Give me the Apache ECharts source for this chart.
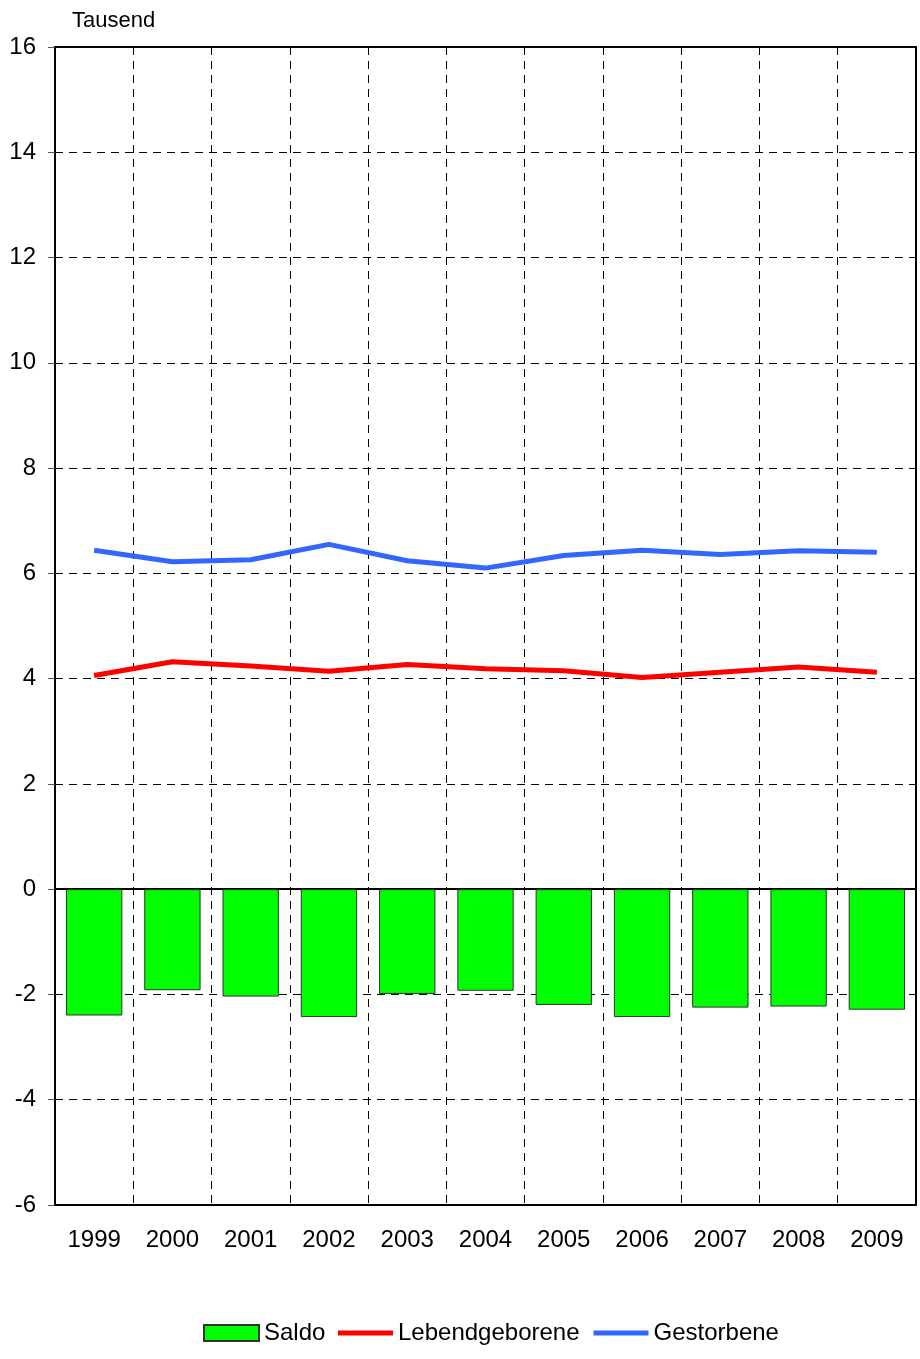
<!DOCTYPE html>
<html>
<head>
<meta charset="utf-8">
<script src="https://cdn.jsdelivr.net/npm/echarts@6/dist/echarts.min.js"></script>
<style>
html,body{margin:0;padding:0;background:#fff;}
#c{width:920px;height:1359px;}
</style>
</head>
<body>
<div id="c"></div>
<script>
const years = ['1999','2000','2001','2002','2003','2004','2005','2006','2007','2008','2009'];
const saldo = [-2.40, -1.92, -2.04, -2.43, -1.99, -1.93, -2.20, -2.43, -2.25, -2.23, -2.29];
const lebendgeborene = [4.06, 4.32, 4.24, 4.14, 4.27, 4.19, 4.15, 4.02, 4.12, 4.22, 4.12];
const gestorbene = [6.44, 6.22, 6.26, 6.55, 6.24, 6.10, 6.34, 6.44, 6.36, 6.43, 6.40];

const FONT = '"Liberation Sans", Arial, sans-serif';
const legendText = {fontFamily: FONT, fontSize: 24, color: '#000'};
const chart = echarts.init(document.getElementById('c'));
chart.setOption({
  animation: false,
  textStyle: {fontFamily: FONT, color: '#000'},
  title: {
    text: 'Tausend', left: 67, top: 5,
    textStyle: {fontFamily: FONT, fontSize: 22, fontWeight: 'normal', color: '#000'}
  },
  grid: {
    left: 55, right: 4, top: 47, bottom: 154,
    show: true, borderColor: '#000', borderWidth: 2, backgroundColor: 'transparent'
  },
  legend: [
    {
      top: 1321, left: 203, padding: 0,
      itemWidth: 55, itemHeight: 16,
      textStyle: legendText,
      data: [{name: 'Saldo', icon: 'rect'}]
    },
    {
      top: 1321, left: 338, padding: 0,
      itemWidth: 55, itemHeight: 5, itemGap: 14,
      textStyle: legendText,
      data: [{name: 'Lebendgeborene', icon: 'rect'}, {name: 'Gestorbene', icon: 'rect'}]
    }
  ],
  xAxis: {
    type: 'category', data: years, boundaryGap: true,
    axisLine: {show: true, lineStyle: {color: '#000', width: 2}},
    axisTick: {show: false},
    axisLabel: {fontFamily: FONT, fontSize: 24, color: '#000', margin: 23, interval: 0},
    splitLine: {show: true, interval: 0, lineStyle: {color: '#000', type: [8,6], width: 1}}
  },
  yAxis: {
    type: 'value', min: -6, max: 16, interval: 2,
    axisLine: {show: true, onZero: false, lineStyle: {color: '#000', width: 2}},
    axisTick: {show: true, length: 7, lineStyle: {color: '#555', width: 1}},
    axisLabel: {fontFamily: FONT, fontSize: 24, color: '#000', margin: 19},
    splitLine: {show: true, lineStyle: {color: '#000', type: [8,6], width: 1}}
  },
  series: [
    {
      name: 'Saldo', type: 'bar', data: saldo, barCategoryGap: '28%',
      itemStyle: {color: '#00ff00', borderColor: '#333', borderWidth: 1}
    },
    {
      name: 'Lebendgeborene', type: 'line', data: lebendgeborene,
      symbol: 'none', lineStyle: {color: '#ff0000', width: 5}, itemStyle: {color: '#ff0000'}
    },
    {
      name: 'Gestorbene', type: 'line', data: gestorbene,
      symbol: 'none', lineStyle: {color: '#3366ff', width: 5}, itemStyle: {color: '#3366ff'}
    }
  ]
});
</script>
</body>
</html>
